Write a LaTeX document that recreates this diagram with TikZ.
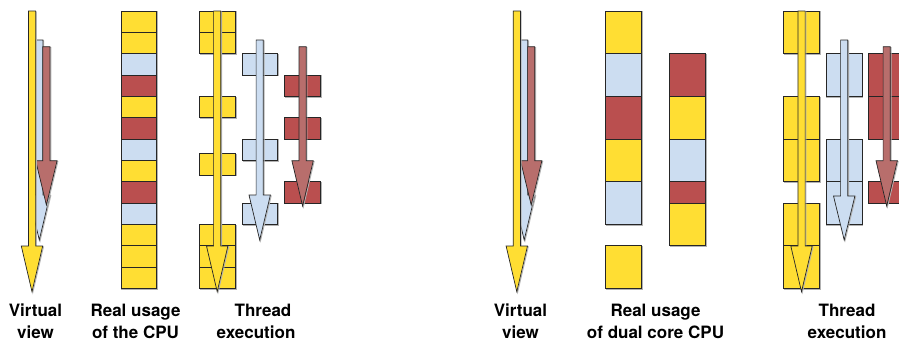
\documentclass[tikz,border=0pt]{standalone}
\usepackage{fontspec}
\setmainfont{TeX Gyre Heros}
\definecolor{cy}{HTML}{FFDE33}
\definecolor{cb}{HTML}{CCDDF1}
\definecolor{cr}{HTML}{BA4F4F}
\definecolor{ca}{HTML}{B86E6C}
\tikzset{
  cellbox/.style={draw=black!85, line width=0.8pt,
    preaction={draw=black!30, line width=1pt, transform canvas={xshift=0.8pt,yshift=-0.8pt}}},
  arrowshape/.style={draw=black!85, line width=0.7pt, line join=miter,
    preaction={draw=black!30, line width=0.9pt, transform canvas={xshift=0.8pt,yshift=-0.8pt}}},
  lbl/.style={font=\bfseries\fontsize{17}{21}\selectfont, inner sep=0pt, anchor=base}
}
% cell box: x1, x2, y1, y2, colour
\newcommand\celbox[5]{\draw[cellbox,fill=#5] (#1,#3) rectangle (#2,#4);}
% unit cell by index: x1, x2, k1, k2, colour
\newcommand\celk[5]{\draw[cellbox,fill=#5] (#1,{11+#3*21.333}) rectangle (#2,{11+#4*21.333});}
% arrow: cx, top, headstart, tip, colour
\newcommand\arw[5]{\draw[arrowshape,fill=#5] ({#1-3.6},#2) -- ({#1+3.6},#2) -- ({#1+3.6},#3) -- ({#1+10.7},#3) -- (#1,#4) -- ({#1-10.7},#3) -- ({#1-3.6},#3) -- cycle;}
\begin{document}
\begin{tikzpicture}[x=1pt,y=-1pt]
\useasboundingbox (0,0) rectangle (899,341);
\clip (0,0) rectangle (899,341);
% ---------------- left panel ----------------
% virtual view
\arw{39.3}{40}{195}{240}{cb}
\arw{46.4}{46.7}{160.7}{205}{ca}
\arw{32}{11}{246}{291.7}{cy}
% real usage of the CPU
\celk{121}{156.7}{0}{1}{cy}
\celk{121}{156.7}{1}{2}{cy}
\celk{121}{156.7}{2}{3}{cb}
\celk{121}{156.7}{3}{4}{cr}
\celk{121}{156.7}{4}{5}{cy}
\celk{121}{156.7}{5}{6}{cr}
\celk{121}{156.7}{6}{7}{cb}
\celk{121}{156.7}{7}{8}{cy}
\celk{121}{156.7}{8}{9}{cr}
\celk{121}{156.7}{9}{10}{cb}
\celk{121}{156.7}{10}{11}{cy}
\celk{121}{156.7}{11}{12}{cy}
\celk{121}{156.7}{12}{13}{cy}
% thread execution
\celk{199.3}{235.3}{0}{1}{cy}
\celk{199.3}{235.3}{1}{2}{cy}
\celk{199.3}{235.3}{4}{5}{cy}
\celbox{199.3}{235.3}{153.7}{175}{cy}
\celk{199.3}{235.3}{10}{11}{cy}
\celk{199.3}{235.3}{11}{12}{cy}
\celk{199.3}{235.3}{12}{13}{cy}
\celk{242.3}{277.7}{2}{3}{cb}
\celk{242.3}{277.7}{6}{7}{cb}
\celk{242.3}{277.7}{9}{10}{cb}
\celk{284.3}{320.7}{3}{4}{cr}
\celk{284.3}{320.7}{5}{6}{cr}
\celk{284.3}{320.7}{8}{9}{cr}
\arw{217.2}{11}{246}{291.7}{cy}
\arw{259.7}{40}{195}{240}{cb}
\arw{302.6}{46.7}{160.7}{206}{ca}
% labels
\node[lbl] (lva) at (35.5,316.7) {Virtual};
\node[lbl] (lvb) at (35.5,338) {view};
\node[lbl] (lra) at (135.5,316.7) {Real usage};
\node[lbl] (lrb) at (135.5,338) {of the CPU};
\node[lbl] (lta) at (263,316.7) {Thread};
\node[lbl] (ltb) at (256,338) {execution};
% ---------------- right panel ----------------
\arw{524.2}{40}{195}{240}{cb}
\arw{531.2}{46.7}{160.7}{205}{ca}
\arw{516.8}{11}{246}{291.7}{cy}
% dual core CPU
\celk{605.3}{641.7}{0}{2}{cy}
\celk{605.3}{641.7}{2}{4}{cb}
\celk{605.3}{641.7}{4}{6}{cr}
\celk{605.3}{641.7}{6}{8}{cy}
\celk{605.3}{641.7}{8}{10}{cb}
\celk{605.3}{641.7}{11}{13}{cy}
\celk{669.3}{705.7}{2}{4}{cr}
\celk{669.3}{705.7}{4}{6}{cy}
\celk{669.3}{705.7}{6}{8}{cb}
\celk{669.3}{705.7}{8}{9}{cr}
\celk{669.3}{705.7}{9}{11}{cy}
% thread execution
\celk{783.3}{819.3}{0}{2}{cy}
\celk{783.3}{819.3}{4}{6}{cy}
\celk{783.3}{819.3}{6}{8}{cy}
\celk{783.3}{819.3}{9}{11}{cy}
\celk{783.3}{819.3}{11}{13}{cy}
\celk{826}{862}{2}{4}{cb}
\celk{826}{862}{6}{8}{cb}
\celk{826}{862}{8}{10}{cb}
\celk{868.7}{905}{2}{4}{cr}
\celk{868.7}{905}{4}{6}{cr}
\celk{868.7}{905}{8}{9}{cr}
\arw{801.5}{11}{246}{291.7}{cy}
\arw{844.2}{40}{196}{240}{cb}
\arw{886.7}{46.7}{160.7}{206}{ca}
% labels
\node[lbl] (rva) at (520.5,316.7) {Virtual};
\node[lbl] (rvb) at (520.5,338) {view};
\node[lbl] (rra) at (655.5,316.7) {Real usage};
\node[lbl] (rrb) at (655.5,338) {of dual core CPU};
\node[lbl] (rta) at (847,316.7) {Thread};
\node[lbl] (rtb) at (847,338) {execution};
\end{tikzpicture}
\end{document}
